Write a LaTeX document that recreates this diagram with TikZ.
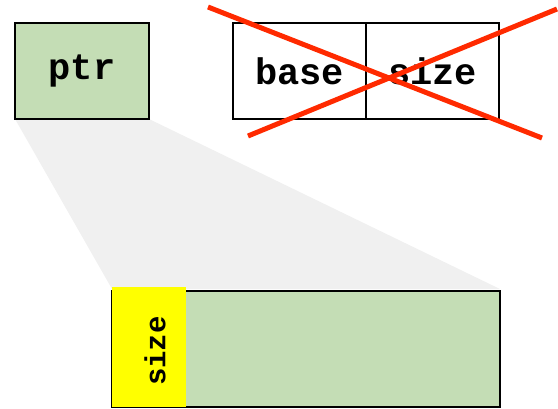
\documentclass[tikz,border=0pt]{standalone}
\usepackage{fontspec}
\setmonofont{Liberation Mono}
\definecolor{cellgreen}{HTML}{C4DDB5}
\definecolor{fangray}{HTML}{F0F0F0}
\definecolor{crossred}{HTML}{FF2A00}
\definecolor{hdryellow}{HTML}{FFFF00}
\begin{document}
\begin{tikzpicture}[x=1pt,y=-1pt,
  cell/.style={draw=black, line width=1.2pt, minimum width=#1, minimum height=96pt, inner sep=0pt, font=\ttfamily\bfseries\fontsize{37}{37}\selectfont},
  cell/.default=134pt,
  cross/.style={draw=crossred, line width=5pt}]
\useasboundingbox (0,0) rectangle (558,408);
% zoom fan from the pointer to the block
\fill[fangray] (15,119) -- (149,119) -- (500,289) -- (112,289) -- cycle;
% pointer cell
\node[cell, fill=cellgreen] (ptr) at (82,71) {ptr};
% base/size pair
\node[cell=133pt] (base) at (299.5,71) {base};
\node[cell=133pt] (size) at (432.5,71) {size};
% crossed out
\coordinate (c1) at (208,7);
\coordinate (c2) at (542,138);
\coordinate (c3) at (248,136);
\coordinate (c4) at (557,9);
\draw[cross] (c1) -- (c2);
\draw[cross] (c3) -- (c4);
% allocated block with size header
\node[draw=black, line width=1.2pt, fill=cellgreen, minimum width=388pt, minimum height=116pt, inner sep=0pt] (block) at (306,349) {};
\node[fill=hdryellow, minimum width=74pt, minimum height=120pt, inner sep=0pt] (hdr) at (149,347) {};
\draw[line width=1.2pt] (block.north west) -- (block.south west);
\node[rotate=90, font=\ttfamily\bfseries\fontsize{29}{29}\selectfont] (hlabel) at (155,351) {size};
\end{tikzpicture}
\end{document}
